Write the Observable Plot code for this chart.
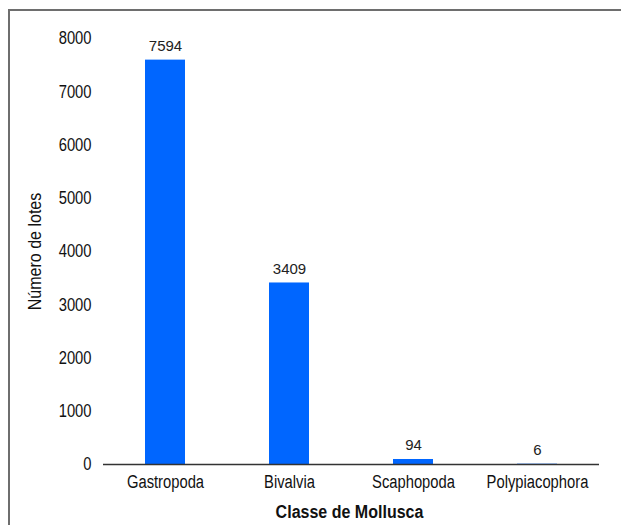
<!DOCTYPE html>
<html>
<head>
<meta charset="utf-8">
<script src="https://cdn.jsdelivr.net/npm/d3@7"></script>
<script src="https://cdn.jsdelivr.net/npm/@observablehq/plot@0.6"></script>
<style>
  html, body { margin: 0; padding: 0; background: #fff; }
  #wrap { position: relative; width: 621px; height: 525px; overflow: hidden; }
  #frame { position: absolute; left: 8px; top: 9px; width: 700px; height: 600px;
           border-left: 2px solid #6e6e6e; border-top: 2px solid #6e6e6e; box-sizing: border-box; }
  #chart { position: absolute; left: 0; top: 0; }
</style>
</head>
<body>
<div id="wrap"><div id="frame"></div><div id="chart"></div></div>
<script>
const categories = ["Gastropoda", "Bivalvia", "Scaphopoda", "Polypiacophora"];
const values = [7594, 3409, 94, 6];
const yTicks = [0, 1000, 2000, 3000, 4000, 5000, 6000, 7000, 8000];
const yTitle = "Número de lotes";
const xTitle = "Classe de Mollusca";

const data = categories.map((c, i) => ({ classe: c, lotes: values[i] }));
const font = "'Liberation Sans', Arial, sans-serif";

const chart = Plot.plot({
  width: 621,
  height: 525,
  marginLeft: 103,
  marginRight: 22,
  marginTop: 38,
  marginBottom: 61,
  style: { fontFamily: font, fontSize: "18px", color: "#111", background: "transparent" },
  x: { domain: categories, paddingInner: 0.677, paddingOuter: 0.3385, label: null },
  y: { domain: [0, 8000], label: null },
  marks: [
    Plot.barY(data, { x: "classe", y: "lotes", fill: "#0066ff" }),
    Plot.axisY({ ticks: yTicks, tickSize: 0, tickPadding: 12, tickFormat: d => String(d), label: null, fill: "#111" }),
    Plot.axisX({ tickSize: 0, tickPadding: 11, label: null, fill: "#111" }),
    Plot.ruleX([0], { frameAnchor: "left", y1: 0, y2: 8075, stroke: "#555", strokeWidth: 2 }),
    Plot.ruleY([0], { stroke: "#333", strokeWidth: 1.5 }),
    Plot.text(data, { x: "classe", y: "lotes", text: d => String(d.lotes), dy: -14,
      fontSize: 15, fill: "#222", className: "vals" }),
    Plot.text([yTitle], { frameAnchor: "left", textAnchor: "middle", dx: -68, dy: 0, rotate: -90,
      fontSize: 18, fill: "#111", className: "ttl" }),
    Plot.text([xTitle], { frameAnchor: "bottom", textAnchor: "middle", dx: -2, dy: 53,
      fontSize: 18, fontWeight: "bold", fill: "#111", className: "ttl" })
  ]
});
document.getElementById("chart").appendChild(chart);

// condense the axis texts and titles (the reference uses a narrow sans face)
d3.select(chart).selectAll("text").each(function () {
  if (this.closest(".vals")) return;
  const k = this.closest(".ttl") ? 0.89 : 0.82;
  const w = this.getComputedTextLength();
  if (w > 0) {
    this.setAttribute("textLength", (w * k).toFixed(2));
    this.setAttribute("lengthAdjust", "spacingAndGlyphs");
  }
});
</script>
</body>
</html>
